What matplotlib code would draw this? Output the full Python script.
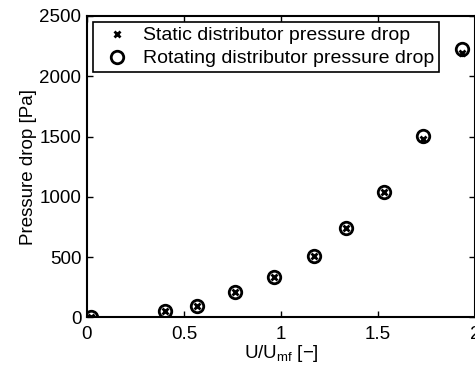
import numpy as np
import matplotlib.pyplot as plt

plt.rcParams['font.family'] = ['Liberation Sans', 'DejaVu Sans']

# measured points
u_umf = np.array([0.02, 0.40, 0.565, 0.763, 0.966, 1.17, 1.335, 1.532, 1.733, 1.931])
dp_static = np.array([0, 50, 94, 210, 337, 509, 738, 1042, 1480, 2190])
dp_rotating = np.array([0, 50, 94, 210, 337, 509, 738, 1042, 1507, 2224])

fig = plt.figure(figsize=(4.75, 3.71), dpi=100)
ax = fig.add_axes([0.183, 0.1447, 0.817, 0.8122])

ax.plot(u_umf, dp_static, 'kx', ms=5, mew=2, ls='none',
        label='Static distributor pressure drop')
ax.plot(u_umf, dp_rotating, 'ko', ms=9, mew=2, mfc='none', ls='none',
        label='Rotating distributor pressure drop')

ax.set_xlim(0, 2)
ax.set_ylim(0, 2500)
ax.set_xticks([0, 0.5, 1, 1.5, 2])
ax.set_xticklabels(['0', '0.5', '1', '1.5', '2'])
ax.set_yticks([0, 500, 1000, 1500, 2000, 2500])
ax.tick_params(direction='in', top=True, right=True, length=4, width=1,
               labelsize=13.5)
ax.tick_params(axis='x', pad=6)
ax.tick_params(axis='y', pad=4)
for s in ax.spines.values():
    s.set_linewidth(1.5)

ax.set_xlabel('U/U$_{\\mathregular{mf}}$ [\u2212]', fontsize=13.5, labelpad=0)
ax.set_ylabel('Pressure drop [Pa]', fontsize=13.5, labelpad=2)

leg = ax.legend(loc='upper left', fontsize=14, frameon=True, fancybox=False,
                edgecolor='k', framealpha=1, borderaxespad=0.3,
                handletextpad=0.3, borderpad=0.26, labelspacing=0.27,
                handlelength=2.0)
leg.get_frame().set_linewidth(1.2)

fig.savefig('out.png', dpi=100)
